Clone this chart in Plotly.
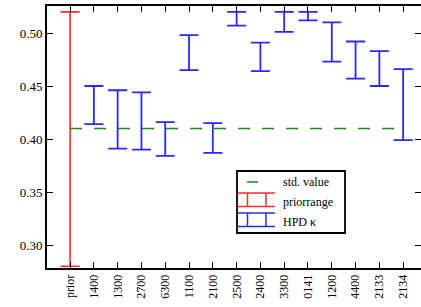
import plotly.graph_objects as go

categories = ["prior", "1400", "1300", "2700", "6300", "1100", "2100", "2500",
              "2400", "3300", "0141", "1200", "4400", "2133", "2134"]
prior_low = 0.28
prior_high = 0.52
hpd_low = [0.414, 0.391, 0.390, 0.384, 0.465, 0.387, 0.507, 0.464, 0.501,
           0.512, 0.473, 0.457, 0.450, 0.399]
hpd_high = [0.450, 0.446, 0.444, 0.416, 0.498, 0.415, 0.520, 0.491, 0.520,
            0.520, 0.510, 0.492, 0.483, 0.466]
std_value = 0.41
y_ticks = [0.30, 0.35, 0.40, 0.45, 0.50]

W, H = 421, 307
ML, MR, MT, MB = 47, 0, 6, 39
PW, PH = W - ML - MR, H - MT - MB

RED = "#ff2a2a"
BLUE = "#2828ff"
GREEN = "#109010"
FONT = "Liberation Serif, Times New Roman, DejaVu Serif, serif"

fig = go.Figure()

# std value line
fig.add_trace(go.Scatter(
    x=[categories[0], categories[-1]], y=[std_value, std_value],
    mode="lines", line=dict(color=GREEN, width=1.5, dash="12px,12px"),
    showlegend=False, hoverinfo="skip"))

# prior range
pm = (prior_low + prior_high) / 2
fig.add_trace(go.Scatter(
    x=[categories[0]], y=[pm], mode="markers",
    marker=dict(size=1, opacity=0),
    error_y=dict(type="data", array=[prior_high - pm], symmetric=True,
                 color=RED, thickness=1.6, width=9.5),
    showlegend=False))

# HPD intervals
mids = [(a + b) / 2 for a, b in zip(hpd_low, hpd_high)]
errs = [(b - a) / 2 for a, b in zip(hpd_low, hpd_high)]
fig.add_trace(go.Scatter(
    x=categories[1:], y=mids, mode="markers",
    marker=dict(size=1, opacity=0),
    error_y=dict(type="data", array=errs, symmetric=True,
                 color=BLUE, thickness=1.8, width=9.5),
    showlegend=False))


def px(x):
    return (x - ML) / PW


def py(y):
    return (H - MB - y) / PH


shapes = []
annotations = []
# legend box
shapes.append(dict(type="rect", xref="paper", yref="paper",
                   x0=px(237), x1=px(345), y0=py(233), y1=py(171),
                   line=dict(color="black", width=1.8), fillcolor="white",
                   layer="above"))
# std value symbol
shapes.append(dict(type="line", xref="paper", yref="paper",
                   x0=px(247), x1=px(258), y0=py(182), y1=py(182),
                   line=dict(color=GREEN, width=1.5), layer="above"))
# error-bar symbols
for col, ytop in [(RED, 193), (BLUE, 213)]:
    for yy in (ytop, ytop + 13.5):
        shapes.append(dict(type="line", xref="paper", yref="paper",
                           x0=px(237.5), x1=px(275), y0=py(yy), y1=py(yy),
                           line=dict(color=col, width=1.3), layer="above"))
    for xx in (247.5, 266):
        shapes.append(dict(type="line", xref="paper", yref="paper",
                           x0=px(xx), x1=px(xx), y0=py(ytop), y1=py(ytop + 13.5),
                           line=dict(color=col, width=1.5), layer="above"))
for txt, yy in [("std. value", 182), ("priorrange", 202), ("HPD \u03ba", 222)]:
    annotations.append(dict(text=txt, xref="paper", yref="paper",
                            x=px(281), y=py(yy), xanchor="left", yanchor="middle",
                            showarrow=False,
                            font=dict(family=FONT, size=12, color="black")))

fig.update_layout(
    width=W, height=H,
    margin=dict(l=ML, r=MR, t=MT, b=MB, pad=0, autoexpand=False),
    paper_bgcolor="white", plot_bgcolor="white",
    font=dict(family=FONT, size=12, color="black"),
    shapes=shapes, annotations=annotations,
    showlegend=False,
    xaxis=dict(type="category", categoryorder="array", categoryarray=categories,
               range=[-0.97, 14.75], showgrid=False, zeroline=False,
               automargin=False,
               showline=True, linecolor="black", linewidth=2, mirror="ticks",
               ticks="inside", ticklen=6, tickwidth=1, tickcolor="black",
               tickangle=-90, tickfont=dict(family=FONT, size=12)),
    yaxis=dict(range=[0.2783, 0.5255], tickvals=y_ticks, tickformat=".2f",
               showgrid=False, zeroline=False, automargin=False,
               showline=True, linecolor="black", linewidth=2, mirror="ticks",
               ticks="inside", ticklen=6, tickwidth=1, tickcolor="black",
               tickfont=dict(family=FONT, size=13)),
)

fig.write_html("out.html", config={"displayModeBar": False},
               post_script="document.body.style.margin='0px';"
                           "document.documentElement.style.overflow='hidden';"
                           "document.body.style.overflow='hidden';")
